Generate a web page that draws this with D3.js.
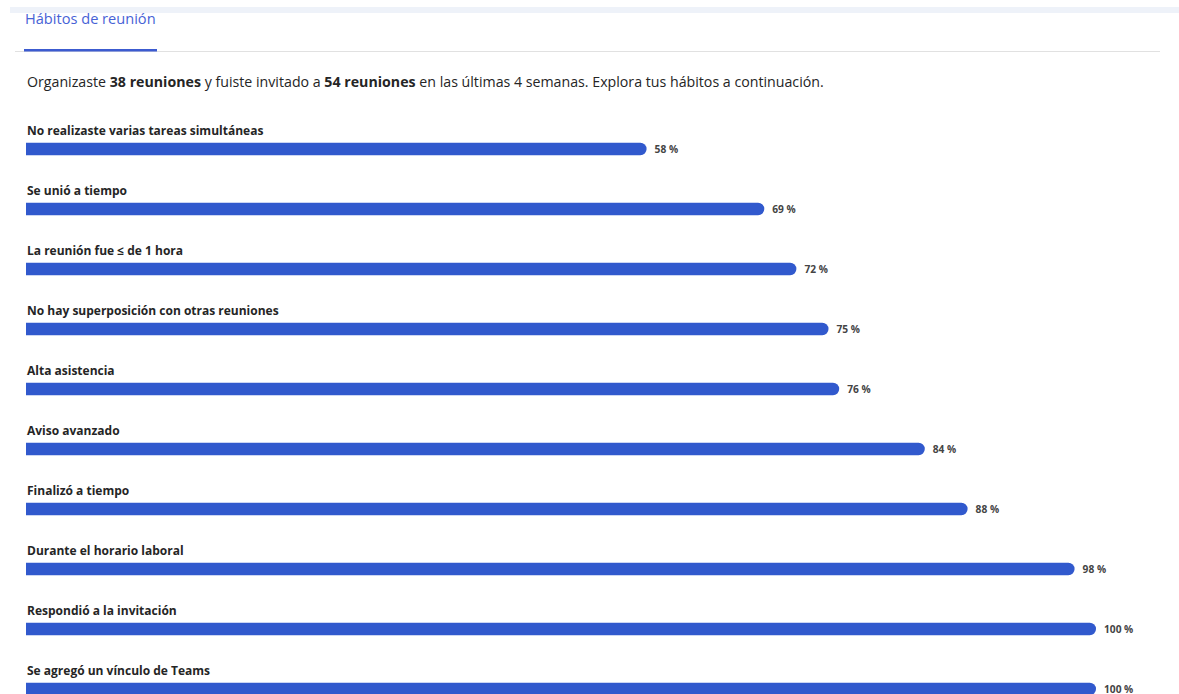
<!DOCTYPE html>
<html>
<head>
<meta charset="utf-8">
<script src="https://cdn.jsdelivr.net/npm/d3@7"></script>
<style>
  body { margin: 0; background: #fff; overflow: hidden; }
  text { font-family: "Segoe UI", "Open Sans", "Noto Sans", sans-serif; }
</style>
</head>
<body>
<div id="chart"></div>
<script>
// data
var habits = [
  "No realizaste varias tareas simultáneas",
  "Se unió a tiempo",
  "La reunión fue ≤ de 1 hora",
  "No hay superposición con otras reuniones",
  "Alta asistencia",
  "Aviso avanzado",
  "Finalizó a tiempo",
  "Durante el horario laboral",
  "Respondió a la invitación",
  "Se agregó un vínculo de Teams"
];
var percents = [58, 69, 72, 75, 76, 84, 88, 98, 100, 100];
var organized = 38, invited = 54, weeks = 4;

var width = 1179, height = 694;
var svg = d3.select("#chart").append("svg")
  .attr("width", width)
  .attr("height", height);

// header strip + tab
svg.append("rect").attr("x", 10).attr("y", 7).attr("width", width - 10).attr("height", 6)
  .attr("fill", "#eef2f9");
svg.append("text").attr("x", 25).attr("y", 24)
  .attr("font-size", 14.6).attr("fill", "#4762d6")
  .text("Hábitos de reunión");
svg.append("line").attr("x1", 15).attr("x2", 1160).attr("y1", 51.5).attr("y2", 51.5)
  .attr("stroke", "#e1e1e1").attr("stroke-width", 1);
svg.append("rect").attr("x", 24).attr("y", 49).attr("width", 133).attr("height", 2.5)
  .attr("fill", "#3c5bd0");

// summary sentence
var desc = svg.append("text").attr("x", 27).attr("y", 87)
  .attr("font-size", 14.2).attr("fill", "#252525");
desc.append("tspan").text("Organizaste ");
desc.append("tspan").attr("font-weight", "bold").text(organized + " reuniones");
desc.append("tspan").text(" y fuiste invitado a ");
desc.append("tspan").attr("font-weight", "bold").text(invited + " reuniones");
desc.append("tspan").text(" en las últimas " + weeks + " semanas. Explora tus hábitos a continuación.");

// scales
var x = d3.scaleLinear().domain([0, 100]).range([26, 1096]);
var y = d3.scaleBand().domain(habits).range([119, 719]);
var barH = 12.5;

function barPath(x0, x1, yc, h) {
  var r = h / 2;
  var p = d3.path();
  p.moveTo(x0, yc - r);
  p.lineTo(x1 - r, yc - r);
  p.arc(x1 - r, yc, r, -Math.PI / 2, Math.PI / 2);
  p.lineTo(x0, yc + r);
  p.closePath();
  return p.toString();
}

var rows = svg.selectAll("g.row")
  .data(habits.map(function (h, i) { return { name: h, value: percents[i] }; }))
  .enter().append("g").attr("class", "row");

rows.append("text")
  .attr("x", 27)
  .attr("y", function (d) { return y(d.name) + 16; })
  .attr("font-size", 12).attr("font-weight", "bold").attr("fill", "#252525")
  .text(function (d) { return d.name; });

rows.append("path")
  .attr("d", function (d) { return barPath(x(0), x(d.value), y(d.name) + 30, barH); })
  .attr("fill", "#3159cd");

rows.append("text")
  .attr("x", function (d) { return x(d.value) + 8; })
  .attr("y", function (d) { return y(d.name) + 34; })
  .attr("font-size", 10.2).attr("font-weight", "bold").attr("fill", "#444")
  .text(function (d) { return d.value + " %"; });
</script>
</body>
</html>
